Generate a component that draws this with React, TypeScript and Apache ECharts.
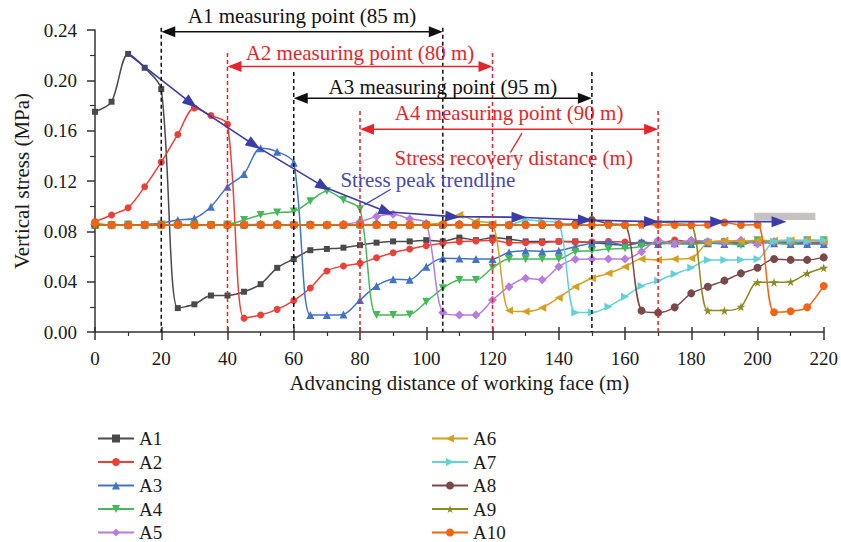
import React, { useEffect, useRef } from "react";
import * as echarts from "echarts";

// Advancing distance of working face (m)
const DIST = [0, 5, 10, 15, 20, 25, 30, 35, 40, 45, 50, 55, 60, 65, 70, 75, 80, 85, 90, 95, 100, 105, 110, 115, 120, 125, 130, 135, 140, 145, 150, 155, 160, 165, 170, 175, 180, 185, 190, 195, 200, 205, 210, 215, 220];

const A1 = [0.175, 0.183, 0.221, 0.21, 0.193, 0.019, 0.022, 0.029, 0.029, 0.032, 0.038, 0.051, 0.058, 0.065, 0.066, 0.067, 0.069, 0.071, 0.072, 0.072, 0.073, 0.072, 0.075, 0.073, 0.075, 0.074, 0.072, 0.072, 0.072, 0.072, 0.071, 0.07, 0.069, 0.071, 0.071, 0.071, 0.072, 0.071, 0.072, 0.071, 0.072, 0.071, 0.071, 0.071, 0.071];
const A2 = [0.0877, 0.093, 0.0988, 0.1155, 0.135, 0.157, 0.178, 0.172, 0.165, 0.011, 0.0135, 0.018, 0.025, 0.035, 0.0485, 0.0525, 0.0546, 0.059, 0.063, 0.066, 0.0686, 0.0705, 0.0718, 0.0723, 0.073, 0.071, 0.071, 0.071, 0.072, 0.0715, 0.0715, 0.072, 0.0715, 0.0705, 0.07, 0.073, 0.0715, 0.071, 0.072, 0.071, 0.0715, 0.071, 0.0705, 0.071, 0.071];
const A3 = [0.085, 0.0855, 0.085, 0.0855, 0.0864, 0.089, 0.0904, 0.0996, 0.1155, 0.1256, 0.146, 0.1433, 0.1346, 0.0135, 0.0135, 0.014, 0.0254, 0.0366, 0.0419, 0.0416, 0.0519, 0.0586, 0.0584, 0.058, 0.058, 0.0633, 0.0646, 0.064, 0.0646, 0.0678, 0.0705, 0.0713, 0.069, 0.0718, 0.07, 0.0705, 0.07, 0.0705, 0.07, 0.0705, 0.0715, 0.0705, 0.07, 0.07, 0.07];
const A4 = [0.0855, 0.085, 0.0855, 0.085, 0.0855, 0.085, 0.0855, 0.085, 0.0855, 0.089, 0.093, 0.0949, 0.0957, 0.104, 0.112, 0.105, 0.0975, 0.0135, 0.0135, 0.014, 0.024, 0.0347, 0.0413, 0.0413, 0.051, 0.058, 0.058, 0.058, 0.058, 0.0638, 0.0646, 0.066, 0.0665, 0.068, 0.071, 0.07, 0.07, 0.071, 0.071, 0.069, 0.073, 0.071, 0.07, 0.073, 0.073];
const A5 = [0.0852, 0.0848, 0.0852, 0.085, 0.0855, 0.0852, 0.0848, 0.085, 0.0852, 0.0855, 0.085, 0.0852, 0.0848, 0.085, 0.0852, 0.0855, 0.0877, 0.0917, 0.0935, 0.0898, 0.0864, 0.0154, 0.0135, 0.0135, 0.0254, 0.036, 0.0427, 0.0416, 0.0519, 0.0578, 0.058, 0.058, 0.058, 0.0638, 0.073, 0.07, 0.073, 0.072, 0.0715, 0.073, 0.07, 0.072, 0.072, 0.0725, 0.072];
const A6 = [0.085, 0.0852, 0.0848, 0.0855, 0.085, 0.0852, 0.0848, 0.085, 0.0855, 0.0852, 0.085, 0.0848, 0.0852, 0.085, 0.0855, 0.0852, 0.085, 0.0848, 0.0852, 0.085, 0.0855, 0.087, 0.093, 0.088, 0.086, 0.017, 0.0162, 0.0193, 0.0273, 0.036, 0.0427, 0.0466, 0.0519, 0.058, 0.0573, 0.058, 0.0586, 0.071, 0.0726, 0.072, 0.073, 0.0725, 0.073, 0.073, 0.072];
const A7 = [0.0848, 0.085, 0.0852, 0.085, 0.0848, 0.0852, 0.085, 0.0855, 0.085, 0.0848, 0.0852, 0.085, 0.0855, 0.0852, 0.085, 0.0848, 0.0852, 0.085, 0.0855, 0.085, 0.0852, 0.0848, 0.085, 0.0852, 0.0855, 0.085, 0.089, 0.088, 0.086, 0.0154, 0.0154, 0.0201, 0.028, 0.0366, 0.0408, 0.0461, 0.051, 0.0572, 0.0572, 0.0575, 0.058, 0.072, 0.073, 0.072, 0.073];
const A8 = [0.0852, 0.085, 0.0848, 0.0852, 0.085, 0.0855, 0.0852, 0.085, 0.0848, 0.085, 0.0852, 0.0855, 0.085, 0.0852, 0.0848, 0.085, 0.0852, 0.0855, 0.085, 0.0848, 0.0852, 0.085, 0.0855, 0.0852, 0.085, 0.0848, 0.0852, 0.085, 0.0855, 0.086, 0.089, 0.086, 0.085, 0.017, 0.0154, 0.0196, 0.0307, 0.036, 0.0408, 0.0466, 0.051, 0.058, 0.0573, 0.0573, 0.0593];
const A9 = [0.085, 0.0848, 0.0852, 0.085, 0.0855, 0.0852, 0.085, 0.0848, 0.0852, 0.085, 0.0855, 0.0852, 0.085, 0.0848, 0.0852, 0.085, 0.0855, 0.0852, 0.085, 0.0848, 0.0852, 0.085, 0.0855, 0.0852, 0.085, 0.0848, 0.0852, 0.085, 0.0855, 0.0852, 0.085, 0.0848, 0.0852, 0.085, 0.0877, 0.086, 0.085, 0.017, 0.017, 0.0201, 0.0395, 0.0395, 0.04, 0.0466, 0.051];
const A10 = [0.0865, 0.085, 0.0848, 0.0852, 0.085, 0.0855, 0.0852, 0.085, 0.0848, 0.0852, 0.0855, 0.085, 0.0852, 0.0848, 0.085, 0.0855, 0.0852, 0.085, 0.0848, 0.0852, 0.085, 0.0855, 0.0852, 0.085, 0.0848, 0.0852, 0.085, 0.0855, 0.0852, 0.085, 0.0848, 0.0852, 0.085, 0.0855, 0.0852, 0.085, 0.0848, 0.0852, 0.087, 0.085, 0.0853, 0.0157, 0.0165, 0.0196, 0.0366];

const SERIES_NAMES = ["A1", "A2", "A3", "A4", "A5", "A6", "A7", "A8", "A9", "A10"];
const SERIES_VALUES = [A1, A2, A3, A4, A5, A6, A7, A8, A9, A10];
const SERIES_COLORS = ["#4a4a4a", "#e8413a", "#4472c4", "#47b85a", "#b87ddc", "#d4a020", "#62d0d8", "#7a4848", "#8c8a22", "#f06414"];
const STAR = "path://M50,0 L61,35 L98,35 L68,57 L79,91 L50,70 L21,91 L32,57 L2,35 L39,35 Z";
const TRI_DOWN = "path://M0,0 L10,0 L5,9 Z";
const TRI_LEFT = "path://M9,0 L9,10 L0,5 Z";
const TRI_RIGHT = "path://M0,0 L0,10 L9,5 Z";
const SERIES_SYMBOLS = ["rect", "circle", "triangle", TRI_DOWN, "diamond", TRI_LEFT, TRI_RIGHT, "circle", STAR, "circle"];
const SERIES_SYMBOL_SIZES = [6, 7, 8, 8, 9, 8, 8, 8, 9, 8];

// Stress peak trendline
const TREND_X = [10, 29, 48, 69, 88, 108, 128, 148, 168, 188, 206.5];
const TREND_Y = [0.221, 0.1818, 0.1487, 0.1155, 0.0956, 0.0917, 0.0912, 0.089, 0.0877, 0.0877, 0.0877];

// Grey box
const GREY_BOX = [[199, 0.0948], [217.5, 0.089]];

// Annotations (data units)
const VLINES = [
  { x: 20, top: 0.2417, color: "#111111" },
  { x: 105, top: 0.2417, color: "#111111" },
  { x: 40, top: 0.2218, color: "#e4262c" },
  { x: 120, top: 0.2218, color: "#e4262c" },
  { x: 60, top: 0.2067, color: "#111111" },
  { x: 150, top: 0.2067, color: "#111111" },
  { x: 80, top: 0.1757, color: "#e4262c" },
  { x: 170, top: 0.1757, color: "#e4262c" },
];
const SPANS = [
  { x1: 20, x2: 105, y: 0.2387, labelY: 0.2515, color: "#111111", label: "A1 measuring point (85 m)" },
  { x1: 40, x2: 120, y: 0.2109, labelY: 0.2215, color: "#e4262c", label: "A2 measuring point (80 m)" },
  { x1: 60, x2: 150, y: 0.1858, labelY: 0.1945, color: "#111111", label: "A3 measuring point (95 m)" },
  { x1: 80, x2: 170, y: 0.1611, labelY: 0.1738, color: "#e4262c", label: "A4 measuring point (90 m)" },
];
const NOTES = [
  { x: 126.4, y: 0.1386, color: "#e4262c", label: "Stress recovery distance (m)", from: [128.9, 0.158], to: [125.4, 0.1425] },
  { x: 100.5, y: 0.1206, color: "#4848b0", label: "Stress peak trendline", from: [89.3, 0.1134], to: [81.3, 0.101] },
];

const FONT = '"Liberation Serif", "Times New Roman", serif';

export default function App() {
  const ref = useRef<HTMLDivElement>(null);
  useEffect(() => {
    document.body.style.margin = "0";
    const el = ref.current!;
    const chart = echarts.init(el, null, { renderer: "svg" });

    const lineSeries = SERIES_NAMES.map((name, k) => ({
      name,
      type: "line",
      data: DIST.map((d, i) => [d, SERIES_VALUES[k][i]]),
      smooth: 0.3,
      symbol: SERIES_SYMBOLS[k],
      symbolSize: SERIES_SYMBOL_SIZES[k],
      lineStyle: { width: 1.5, color: SERIES_COLORS[k] },
      itemStyle: { color: SERIES_COLORS[k] },
      z: 2 + k,
    }));

    const axisText = { fontFamily: FONT, fontSize: 19, color: "#1a1a1a" };
    const legendBase = {
      orient: "vertical", top: 429, padding: 0,
      itemWidth: 36, itemHeight: 10, itemGap: 4.5, height: 120,
      textStyle: { fontFamily: FONT, fontSize: 19, lineHeight: 18, color: "#1a1a1a" },
    };
    const option: any = {
      animation: false,
      backgroundColor: "#ffffff",
      grid: { left: 95, right: 15, top: 30, bottom: 210, containLabel: false },
      xAxis: [
        {
          type: "value", min: 0, max: 220, interval: 20,
          name: "Advancing distance of working face (m)", nameLocation: "middle", nameGap: 40,
          nameTextStyle: { fontFamily: FONT, fontSize: 21, color: "#1a1a1a" },
          axisLine: { show: true, onZero: false, lineStyle: { color: "#333", width: 1.5 } },
          axisTick: { show: true, inside: false, length: 8, lineStyle: { color: "#333", width: 1.5 } },
          minorTick: { show: true, splitNumber: 2, length: 4, lineStyle: { color: "#333", width: 1.2 } },
          axisLabel: { ...axisText, margin: 17 },
          splitLine: { show: false },
        },
        {
          type: "value", min: 0, max: 220, interval: 20, position: "bottom",
          axisLine: { show: false },
          axisTick: { show: true, inside: true, length: 5, lineStyle: { color: "#333", width: 1.5 } },
          axisLabel: { show: false },
          splitLine: { show: false },
        },
      ],
      yAxis: {
        type: "value", min: 0, max: 0.24, interval: 0.04,
        name: "Vertical stress (MPa)", nameLocation: "middle", nameGap: 63,
        nameTextStyle: { fontFamily: FONT, fontSize: 21, color: "#1a1a1a" },
        axisLine: { show: true, lineStyle: { color: "#333", width: 1.5 } },
        axisTick: { show: true, inside: false, length: 8, lineStyle: { color: "#333", width: 1.5 } },
        minorTick: { show: true, splitNumber: 2, length: 5, lineStyle: { color: "#333", width: 1.2 } },
        axisLabel: { ...axisText, margin: 18, formatter: (v: number) => v.toFixed(2) },
        splitLine: { show: false },
      },
      legend: [
        { ...legendBase, data: SERIES_NAMES.slice(0, 5), left: 97 },
        { ...legendBase, data: SERIES_NAMES.slice(5), left: 431 },
      ],
      series: [
        ...lineSeries,
        {
          name: "trend",
          type: "line",
          data: TREND_X.map((x, i) => [x, TREND_Y[i]]),
          symbol: "none",
          lineStyle: { width: 1.6, color: "#3c3ca8" },
          itemStyle: { color: "#3c3ca8" },
          z: 20,
          markArea: {
            silent: true,
            itemStyle: { color: "#c6c2c2" },
            data: [[{ coord: GREY_BOX[0] }, { coord: GREY_BOX[1] }]],
          },
        },
      ],
    };
    chart.setOption(option);

    const px = (x: number, y: number) => chart.convertToPixel({ seriesIndex: 0 }, [x, y]) as number[];

    // trendline arrows
    const trendData = TREND_X.map((x, i) => {
      if (i === 0) return { value: [x, TREND_Y[i]], symbol: "none" };
      const a = px(TREND_X[i - 1], TREND_Y[i - 1]);
      const b = px(x, TREND_Y[i]);
      const phi = (Math.atan2(-(b[1] - a[1]), b[0] - a[0]) * 180) / Math.PI;
      return { value: [x, TREND_Y[i]], symbol: "triangle", symbolSize: [11, 15], symbolRotate: phi - 90 };
    });

    const graphics: any[] = [];
    VLINES.forEach((v) => {
      const t = px(v.x, v.top);
      const b = px(v.x, 0);
      graphics.push({
        type: "line", z: 30, silent: true,
        shape: { x1: t[0], y1: t[1], x2: b[0], y2: b[1] },
        style: { stroke: v.color, lineWidth: 1.5, lineDash: [4, 3] },
      });
    });
    SPANS.forEach((s) => {
      const p1 = px(s.x1, s.y);
      const p2 = px(s.x2, s.y);
      const L = 14, H = 5.5;
      graphics.push({
        type: "line", z: 31, silent: true,
        shape: { x1: p1[0] + 4, y1: p1[1], x2: p2[0] - 4, y2: p2[1] },
        style: { stroke: s.color, lineWidth: 1.5 },
      });
      graphics.push({
        type: "polygon", z: 31, silent: true,
        shape: { points: [[p1[0], p1[1]], [p1[0] + L, p1[1] - H], [p1[0] + L, p1[1] + H]] },
        style: { fill: s.color },
      });
      graphics.push({
        type: "polygon", z: 31, silent: true,
        shape: { points: [[p2[0], p2[1]], [p2[0] - L, p2[1] - H], [p2[0] - L, p2[1] + H]] },
        style: { fill: s.color },
      });
      const t = px((s.x1 + s.x2) / 2, s.labelY);
      graphics.push({
        type: "text", z: 32, silent: true, x: t[0], y: t[1],
        style: {
          text: s.label, fill: s.color, font: `21px ${FONT}`,
          align: "center", verticalAlign: "middle", textAlign: "center", textVerticalAlign: "middle",
        },
      });
    });
    NOTES.forEach((n) => {
      const t = px(n.x, n.y);
      graphics.push({
        type: "text", z: 32, silent: true, x: t[0], y: t[1],
        style: {
          text: n.label, fill: n.color, font: `21px ${FONT}`,
          align: "center", verticalAlign: "middle", textAlign: "center", textVerticalAlign: "middle",
        },
      });
      const a = px(n.from[0], n.from[1]);
      const b = px(n.to[0], n.to[1]);
      graphics.push({
        type: "line", z: 31, silent: true,
        shape: { x1: a[0], y1: a[1], x2: b[0], y2: b[1] },
        style: { stroke: n.color, lineWidth: 1.3 },
      });
    });

    chart.setOption({
      series: [...lineSeries.map(() => ({})), { data: trendData }],
      graphic: graphics,
    });

    return () => chart.dispose();
  }, []);
  return <div ref={ref} style={{ width: 841, height: 542 }} />;
}
